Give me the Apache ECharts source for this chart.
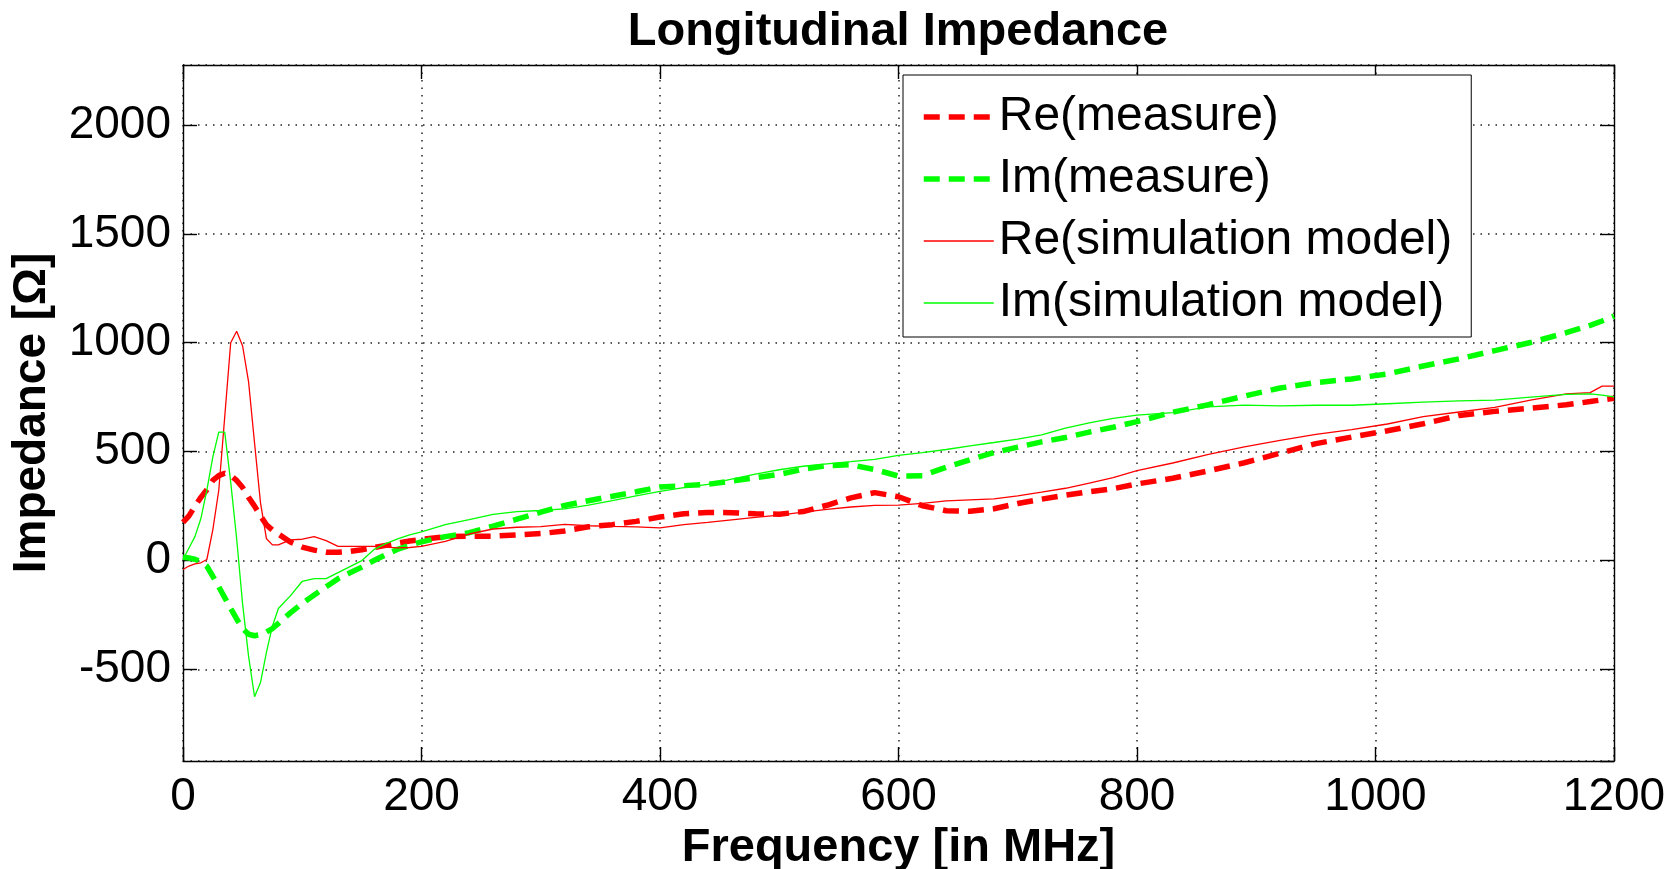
<!DOCTYPE html>
<html>
<head>
<meta charset="utf-8">
<title>Longitudinal Impedance</title>
<script src="https://cdn.jsdelivr.net/npm/echarts@6.0.0/dist/echarts.min.js"></script>
<style>
  html, body { margin: 0; padding: 0; background: #fff; }
  #chart { width: 1680px; height: 869px; }
</style>
</head>
<body>
<div id="chart"></div>
<script>
// frequency points in MHz (shared by all four curves)
const freq = [0, 5, 10, 15, 20, 25, 30, 35, 40, 45, 50, 55, 60, 65, 70, 75, 80,
  90, 100, 110, 120, 130, 140, 150, 160, 170, 180, 190, 200,
  220, 240, 260, 280, 300, 320, 340, 360, 380, 400, 420, 440, 460, 480, 500,
  520, 540, 560, 580, 600, 620, 640, 660, 680, 700, 720, 740, 760, 780, 800,
  830, 860, 890, 920, 950, 980, 1010, 1040, 1070, 1100, 1130, 1160,
  1180, 1190, 1200];

// measured impedance, real part
const reMeasure = [175, 205, 250, 290, 325, 368, 390, 401, 390, 368, 335, 290, 250, 205, 164, 140, 122,
  85, 62, 48, 38, 38, 42, 50, 60, 70, 80, 90, 97,
  110, 112, 112, 118, 124, 136, 155, 165, 180, 200, 215, 221, 220, 215, 213,
  225, 254, 288, 312, 293, 252, 229, 226, 238, 262, 282, 300, 316, 330, 352,
  378, 412, 449, 493, 537, 567, 596, 628, 666, 685, 700, 715,
  730, 738, 745];

// measured impedance, imaginary part
const imMeasure = [15, 12, 6, -5, -26, -72, -120, -170, -220, -268, -312, -338, -345, -340, -328, -312, -288,
  -240, -196, -158, -120, -83, -56, -30, 0, 27, 52, 70, 86,
  110, 128, 158, 190, 222, 253, 275, 295, 316, 338, 344, 350, 365, 380, 396,
  419, 436, 440, 418, 388, 390, 428, 463, 496, 521, 545, 565, 590, 612, 638,
  681, 716, 755, 792, 817, 834, 857, 893, 926, 964, 1001, 1046,
  1080, 1100, 1122];

// simulation model, real part
const reSim = [-41, -25, -15, -10, 5, 141, 323, 660, 1000, 1053, 985, 820, 540, 265, 100, 72, 72,
  95, 98, 110, 92, 65, 65, 65, 65, 62, 58, 60, 65,
  88, 122, 145, 153, 156, 166, 160, 157, 155, 150, 165, 175, 187, 198, 209,
  222, 235, 246, 253, 255, 263, 274, 279, 283, 297, 314, 332, 356, 381, 413,
  448, 488, 522, 552, 579, 601, 627, 661, 682, 703, 737, 765,
  771, 801, 801];

// simulation model, imaginary part
const imSim = [5, 58, 110, 193, 323, 475, 590, 590, 360, 100, -200, -440, -625, -560, -420, -300, -220,
  -162, -95, -83, -83, -55, -28, 0, 50, 78, 100, 118, 132,
  165, 188, 212, 225, 230, 237, 255, 275, 297, 318, 335, 350, 374, 397, 417,
  433, 444, 454, 465, 483, 496, 510, 527, 542, 558, 577, 608, 632, 653, 668,
  679, 706, 714, 710, 713, 713, 720, 727, 733, 737, 750, 763,
  765, 760, 752];

const seriesNames = ['Re(measure)', 'Im(measure)', 'Re(simulation model)', 'Im(simulation model)'];
const xTicks = { min: 0, max: 1200, step: 200 };
const yRange = { min: -920, max: 2275, step: 500 };

const font = '"Liberation Sans", Arial, Helvetica, sans-serif';
const pairs = (ys) => freq.map((f, i) => [f, ys[i]]);

const red = '#ff0000';
const green = '#00ff00';
const dashed = { width: 5.5, type: [16, 9] };
const thin = { width: 1.3, type: 'solid' };

const gridLine = {
  show: true,
  lineStyle: { color: '#222', width: 1.5, type: [1.5, 6] }
};

const frameAxis = {
  axisLine: { show: true, onZero: false, lineStyle: { color: '#000', width: 1.4 } },
  axisTick: { show: true, inside: true, length: 14, lineStyle: { color: '#000', width: 1.4 } }
};

const chart = echarts.init(document.getElementById('chart'));

const legendItem = (name, color, style) => ({
  name: name,
  lineStyle: { color: color, width: style.width, type: style.type },
  itemStyle: { opacity: 0 }
});

const option = {
  backgroundColor: '#fff',
  animation: false,
  title: {
    text: 'Longitudinal Impedance',
    left: 898,
    top: 9,
    textAlign: 'center',
    padding: 0,
    textStyle: { fontFamily: font, fontWeight: 'bold', fontSize: 47, color: '#000' }
  },
  legend: {
    orient: 'vertical',
    left: 903,
    top: 75,
    data: [
      legendItem(seriesNames[0], red, dashed),
      legendItem(seriesNames[1], green, dashed),
      legendItem(seriesNames[2], red, thin),
      legendItem(seriesNames[3], green, thin)
    ],
    backgroundColor: '#fff',
    borderColor: '#000',
    borderWidth: 1,
    padding: [16, 19, 8, 18],
    itemWidth: 70,
    itemHeight: 2,
    itemGap: 10,
    itemStyle: { opacity: 0 },
    textStyle: { fontFamily: font, fontSize: 48, lineHeight: 52, color: '#000' }
  },
  grid: { left: 183, right: 66, top: 65, bottom: 108, containLabel: false, outerBoundsMode: 'none' },
  xAxis: [
    Object.assign({}, frameAxis, {
      type: 'value',
      position: 'bottom',
      min: xTicks.min,
      max: xTicks.max,
      interval: xTicks.step,
      name: 'Frequency [in MHz]',
      nameLocation: 'middle',
      nameGap: 58,
      nameTextStyle: { fontFamily: font, fontWeight: 'bold', fontSize: 47, color: '#000' },
      axisLabel: { fontFamily: font, fontSize: 46, color: '#000', margin: 13, formatter: (v) => String(v) },
      splitLine: gridLine
    }),
    Object.assign({}, frameAxis, {
      type: 'value',
      position: 'top',
      min: xTicks.min,
      max: xTicks.max,
      interval: xTicks.step,
      axisLabel: { show: false },
      splitLine: { show: false }
    })
  ],
  yAxis: [
    Object.assign({}, frameAxis, {
      type: 'value',
      position: 'left',
      min: yRange.min,
      max: yRange.max,
      minInterval: yRange.step,
      maxInterval: yRange.step,
      name: 'Impedance [Ω]',
      nameLocation: 'middle',
      nameRotate: 90,
      nameGap: 128,
      nameTextStyle: { fontFamily: font, fontWeight: 'bold', fontSize: 46, color: '#000' },
      axisLabel: {
        fontFamily: font, fontSize: 46, color: '#000', margin: 12,
        showMinLabel: false, showMaxLabel: false,
        formatter: (v) => (v % yRange.step === 0 ? String(v) : '')
      },
      splitLine: gridLine
    }),
    Object.assign({}, frameAxis, {
      type: 'value',
      position: 'right',
      min: yRange.min,
      max: yRange.max,
      minInterval: yRange.step,
      maxInterval: yRange.step,
      axisLabel: { show: false },
      splitLine: { show: false }
    })
  ],
  series: [
    {
      name: seriesNames[0], type: 'line', data: pairs(reMeasure),
      symbol: 'none', smooth: false, clip: true,
      lineStyle: { color: red, width: dashed.width, type: dashed.type },
      itemStyle: { color: red }
    },
    {
      name: seriesNames[1], type: 'line', data: pairs(imMeasure),
      symbol: 'none', smooth: false, clip: true,
      lineStyle: { color: green, width: dashed.width, type: dashed.type },
      itemStyle: { color: green }
    },
    {
      name: seriesNames[2], type: 'line', data: pairs(reSim),
      symbol: 'none', smooth: false, clip: true,
      lineStyle: { color: red, width: thin.width },
      itemStyle: { color: red }
    },
    {
      name: seriesNames[3], type: 'line', data: pairs(imSim),
      symbol: 'none', smooth: false, clip: true,
      lineStyle: { color: green, width: thin.width },
      itemStyle: { color: green }
    }
  ]
};

chart.setOption(option);
window.addEventListener('resize', () => chart.resize());
</script>
</body>
</html>
